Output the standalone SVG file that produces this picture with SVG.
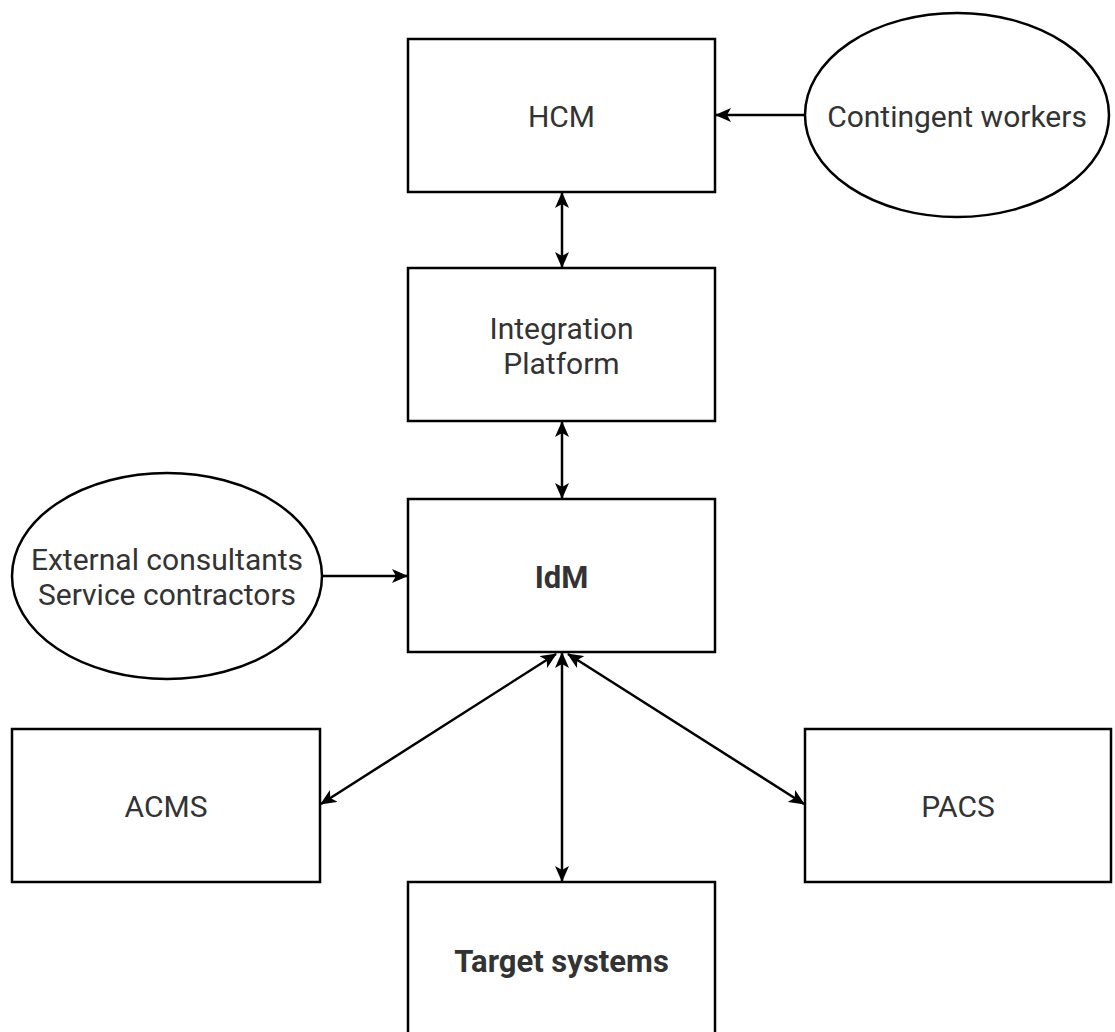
<svg xmlns="http://www.w3.org/2000/svg" width="1115" height="1032" viewBox="0 0 1115 1032">
  <defs>
    <marker id="arrow" viewBox="0 0 16 14" refX="15" refY="7" markerWidth="16" markerHeight="14" markerUnits="userSpaceOnUse" orient="auto-start-reverse">
      <path d="M0,0 L16,7 L0,14 L4,7 z" fill="#000"/>
    </marker>
    <style>
      .box { fill: #fff; stroke: #000; stroke-width: 2.5; }
      .label { font-family: Roboto, "Liberation Sans", sans-serif; font-size: 30px; fill: #333; text-anchor: middle; dominant-baseline: central; }
      .bold { font-weight: bold; font-size: 31px; }
      .edge { fill: none; stroke: #000; stroke-width: 2.5; }
    </style>
  </defs>
  <rect width="1115" height="1032" fill="#fff"/>

  <g id="hcm">
    <rect class="box" x="408" y="39" width="307" height="153"/>
    <text class="label" x="561.5" y="116">HCM</text>
  </g>
  <g id="contingent-workers">
    <ellipse class="box" cx="957" cy="115" rx="152" ry="102"/>
    <text class="label" x="957" y="116">Contingent workers</text>
  </g>
  <g id="integration-platform">
    <rect class="box" x="408" y="268" width="307" height="153"/>
    <text class="label" x="561.5" y="328">Integration</text>
    <text class="label" x="561.5" y="363">Platform</text>
  </g>
  <g id="idm">
    <rect class="box" x="408" y="499" width="307" height="153"/>
    <text class="label bold" x="561.5" y="577">IdM</text>
  </g>
  <g id="external">
    <ellipse class="box" cx="167" cy="576" rx="155" ry="103"/>
    <text class="label" x="167" y="559">External consultants</text>
    <text class="label" x="167" y="594">Service contractors</text>
  </g>
  <g id="acms">
    <rect class="box" x="12" y="729" width="308" height="153"/>
    <text class="label" x="166" y="806">ACMS</text>
  </g>
  <g id="pacs">
    <rect class="box" x="805" y="729" width="306" height="153"/>
    <text class="label" x="958" y="806">PACS</text>
  </g>
  <g id="target-systems">
    <rect class="box" x="408" y="882" width="307" height="160"/>
    <text class="label bold" x="561.5" y="961">Target systems</text>
  </g>

  <g id="connectors">
    <line class="edge" x1="805" y1="115" x2="716" y2="115" marker-end="url(#arrow)"/>
    <line class="edge" x1="562" y1="193" x2="562" y2="267" marker-start="url(#arrow)" marker-end="url(#arrow)"/>
    <line class="edge" x1="562" y1="422" x2="562" y2="498" marker-start="url(#arrow)" marker-end="url(#arrow)"/>
    <line class="edge" x1="322" y1="576" x2="407" y2="576" marker-end="url(#arrow)"/>
    <line class="edge" x1="556" y1="654" x2="321" y2="804" marker-start="url(#arrow)" marker-end="url(#arrow)"/>
    <line class="edge" x1="562" y1="653" x2="562" y2="881" marker-start="url(#arrow)" marker-end="url(#arrow)"/>
    <line class="edge" x1="568" y1="654" x2="804" y2="804" marker-start="url(#arrow)" marker-end="url(#arrow)"/>
  </g>
</svg>
